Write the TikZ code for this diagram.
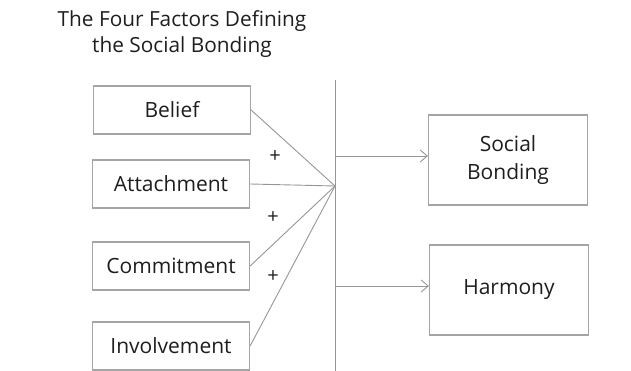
\documentclass[tikz,border=0pt]{standalone}
\usepackage{fontspec}
\setmainfont{Open Sans}
\usetikzlibrary{arrows.meta, positioning}
\definecolor{boxgray}{RGB}{165,165,165}
\definecolor{linegray}{RGB}{150,150,150}
\definecolor{textgray}{RGB}{30,30,30}

\tikzset{
  factor/.style={draw=boxgray, line width=1.2pt, minimum width=157pt, minimum height=48pt, inner sep=0pt, text=textgray, font=\fontsize{21}{24}\selectfont},
  outcome/.style={draw=boxgray, line width=1.2pt, minimum width=159pt, minimum height=90pt, inner sep=0pt, text=textgray, align=center, font=\fontsize{21}{28}\selectfont},
  link/.style={draw=linegray, line width=0.9pt},
  plus/.style={text=textgray, font=\fontsize{20}{20}\selectfont, inner sep=0pt}
}

\begin{document}
\begin{tikzpicture}[x=1pt, y=-1pt]
	\useasboundingbox (0,0) rectangle (631,371);
	
	\node(title) [align=center, text=textgray, font=\fontsize{20.8}{26}\selectfont] at (182,34) {The Four Factors Defining\\the Social Bonding};
	
	\node(belief) [factor] at (172,110) {Belief};
	\node(attach) [factor] at (171,184) {Attachment};
	\node(commit) [factor] at (171,266) {Commitment};
	\node(involve) [factor] at (171,346) {Involvement};
	
	\node(social) [outcome] at (508,160) {Social\\Bonding};
	\node(harmony) [outcome] at (509,290) {Harmony};
	
	\coordinate(top) at (335,80);
	\coordinate(bottom) at (335,373);
	\coordinate(hub) at (335,186);
	\coordinate(up) at (335,156);
	\coordinate(down) at (335,286);
	
	\node(p1) [plus] at (275,157) {+};
	\node(p2) [plus] at (273,218) {+};
	\node(p3) [plus] at (273,277) {+};
	
	\draw[link] (top) -- (bottom);
	\draw[link] (belief.east) -- (hub);
	\draw[link] (attach.east) -- (hub);
	\draw[link] (commit.east) -- (hub);
	\draw[link] (involve.east) -- (hub);
	
	\draw[link, -{Straight Barb[length=7pt, width=12pt]}] (up) -- (up -| social.west);
	\draw[link, -{Straight Barb[length=7pt, width=12pt]}] (down) -- (down -| harmony.west);
\end{tikzpicture}
\end{document}
